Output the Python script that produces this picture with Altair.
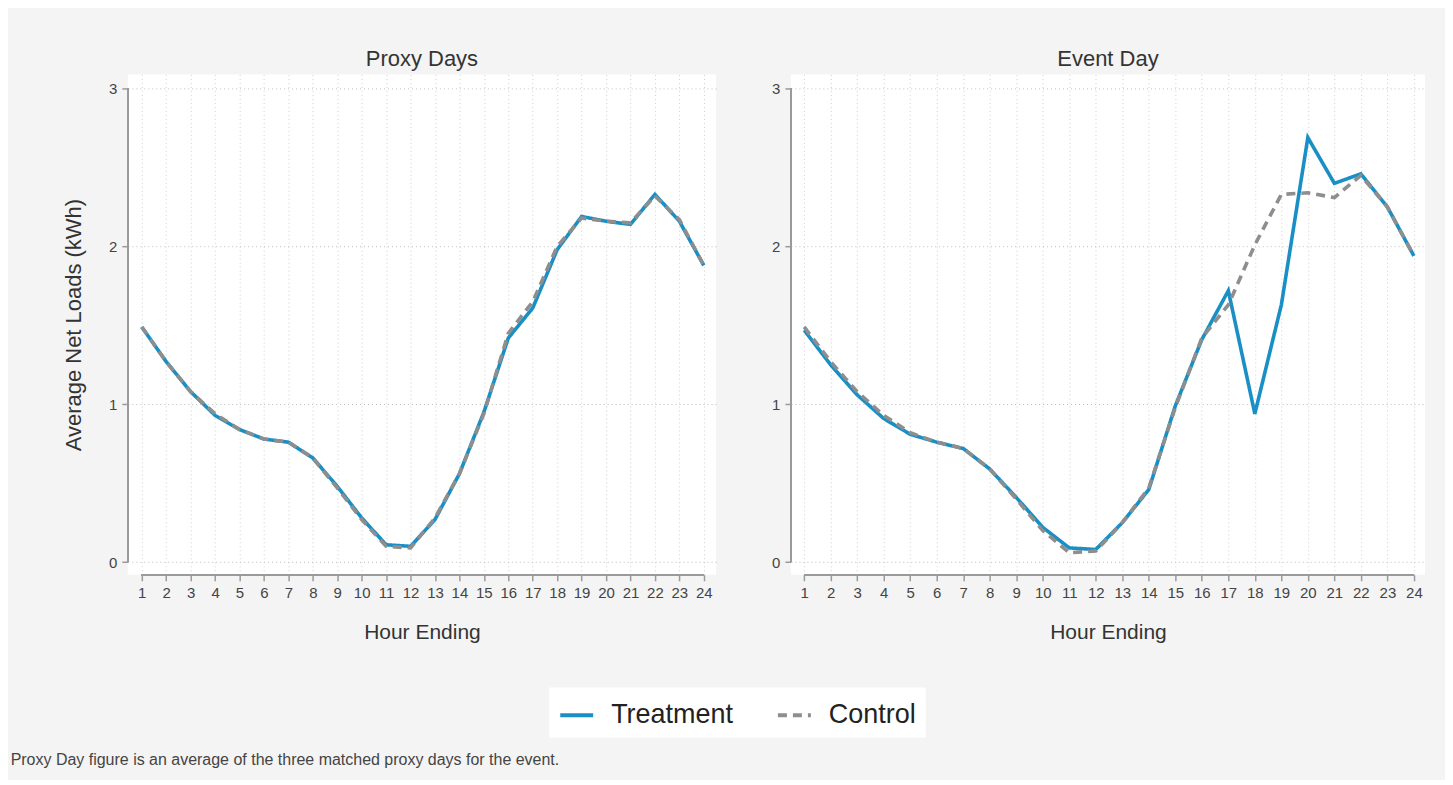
import altair as alt
import pandas as pd

# ---- data ----
hours = list(range(1, 25))
series_names = ["Treatment", "Control"]
panel_titles = ["Proxy Days", "Event Day"]
y_ticks = [0, 1, 2, 3]

proxy_treatment = [1.49, 1.27, 1.08, 0.93, 0.84, 0.78, 0.76, 0.66, 0.48, 0.28, 0.11, 0.10,
                   0.27, 0.56, 0.95, 1.42, 1.61, 1.98, 2.19, 2.16, 2.14, 2.33, 2.16, 1.88]
proxy_control = [1.49, 1.27, 1.08, 0.94, 0.84, 0.78, 0.76, 0.66, 0.47, 0.27, 0.10, 0.09,
                 0.28, 0.56, 0.94, 1.45, 1.65, 2.00, 2.18, 2.16, 2.15, 2.32, 2.17, 1.88]
event_treatment = [1.47, 1.25, 1.06, 0.91, 0.81, 0.76, 0.72, 0.59, 0.41, 0.22, 0.09, 0.08,
                   0.25, 0.46, 0.99, 1.41, 1.72, 0.94, 1.63, 2.69, 2.40, 2.46, 2.25, 1.94]
event_control = [1.49, 1.27, 1.08, 0.93, 0.82, 0.76, 0.72, 0.59, 0.40, 0.20, 0.06, 0.07,
                 0.25, 0.47, 0.98, 1.42, 1.63, 2.01, 2.33, 2.34, 2.31, 2.45, 2.25, 1.94]

footnote = "Proxy Day figure is an average of the three matched proxy days for the event."

BLUE = "#1a8fc6"
GREY = "#8e8e8e"
AXIS = "#9a9a9a"
FONT = "Liberation Sans"
Y_DOMAIN = [-0.08, 3.09]


def make_df(treat, ctrl):
    rows = []
    for h, v in zip(hours, treat):
        rows.append({"hour": h, "value": v, "series": series_names[0]})
    for h, v in zip(hours, ctrl):
        rows.append({"hour": h, "value": v, "series": series_names[1]})
    return pd.DataFrame(rows)


color_scale = alt.Scale(domain=series_names, range=[BLUE, GREY])
dash_scale = alt.Scale(domain=series_names, range=[[1, 0], [9, 6]])


def panel(treat, ctrl, title, width, x_domain, y_title):
    df = make_df(treat, ctrl)
    xs = alt.Scale(domain=x_domain, nice=False, zero=False)
    ys = alt.Scale(domain=Y_DOMAIN, nice=False, zero=False)
    x_axis = alt.Axis(values=hours, domain=False, grid=True, gridDash=[1, 3],
                      gridColor="#cfcfcf", gridWidth=1, ticks=True, tickColor=AXIS,
                      tickSize=6, tickWidth=1.5, labelFontSize=15, labelColor="#444",
                      labelPadding=5, labelOverlap=False, labelFlush=False,
                      labelSeparation=0, labelBound=False,
                      title="Hour Ending", titleFontSize=21,
                      titleFontWeight="normal", titleColor="#333", titlePadding=21,
                      labelFont=FONT, titleFont=FONT)
    y_axis = alt.Axis(values=y_ticks, format="d", domain=False, grid=True, gridDash=[1, 3],
                      gridColor="#bdbdbd", gridWidth=1, ticks=True, tickColor=AXIS,
                      tickSize=6, tickWidth=1.5, labelFontSize=15, labelColor="#444",
                      labelPadding=5, labelFlush=False, labelOverlap=False,
                      title=y_title if y_title else None,
                      titleFontSize=22, titleFontWeight="normal", titleColor="#333",
                      titlePadding=23, labelFont=FONT, titleFont=FONT)
    base = alt.Chart(df)
    treat_line = base.transform_filter(alt.datum.series == series_names[0]).mark_line(
        strokeWidth=3.6).encode(
        x=alt.X("hour:Q", scale=xs, axis=x_axis),
        y=alt.Y("value:Q", scale=ys, axis=y_axis),
        color=alt.Color("series:N", scale=color_scale, legend=alt.Legend(title=None)),
        strokeDash=alt.StrokeDash("series:N", scale=dash_scale, legend=alt.Legend(title=None)),
    )
    ctrl_line = base.transform_filter(alt.datum.series == series_names[1]).mark_line(
        strokeWidth=3.6).encode(
        x=alt.X("hour:Q", scale=xs, axis=x_axis),
        y=alt.Y("value:Q", scale=ys, axis=y_axis),
        color=alt.Color("series:N", scale=color_scale, legend=alt.Legend(title=None)),
        strokeDash=alt.StrokeDash("series:N", scale=dash_scale, legend=alt.Legend(title=None)),
    )
    x_line = alt.Chart(df).mark_rule(color=AXIS, strokeWidth=1.5).encode(
        x=alt.datum(hours[0], scale=xs, axis=x_axis), x2=alt.datum(hours[-1]),
        y=alt.datum(Y_DOMAIN[0], scale=ys, axis=y_axis))
    y_line = alt.Chart(df).mark_rule(color=AXIS, strokeWidth=1.5).encode(
        x=alt.datum(x_domain[0], scale=xs, axis=x_axis),
        y=alt.datum(y_ticks[0], scale=ys, axis=y_axis), y2=alt.datum(y_ticks[-1]))
    return alt.layer(treat_line, ctrl_line, x_line, y_line).properties(
        width=width, height=501,
        title=alt.TitleParams(title, fontSize=22, fontWeight="normal", color="#333",
                              font=FONT, offset=3),
    )


left = panel(proxy_treatment, proxy_control, panel_titles[0], 589, [0.43, 24.5],
             "Average Net Loads (kWh)")
right = panel(event_treatment, event_control, panel_titles[1], 635, [0.5, 24.42], None)

chart = alt.hconcat(left, right, spacing=55).properties(
    background="#f4f4f4",
    padding={"left": 2, "top": 40, "right": 20, "bottom": 11},
    title=alt.TitleParams(footnote, orient="bottom", anchor="start", frame="bounds",
                          fontSize=16, fontWeight="normal", color="#444", font=FONT,
                          offset=15, dx=-52),
).configure_view(fill="white", stroke=None).configure_axis(
    labelOverlap=False
).configure_legend(
    orient="none", legendX=422, legendY=614, direction="horizontal",
    fillColor="white", padding=9, labelFontSize=27, labelFont=FONT,
    labelColor="#222", symbolType="stroke", symbolSize=1089, symbolStrokeWidth=4,
    labelOffset=16, columnPadding=36, symbolOpacity=1,
)

chart.save("out.html", embed_options={"renderer": "svg", "actions": False})
